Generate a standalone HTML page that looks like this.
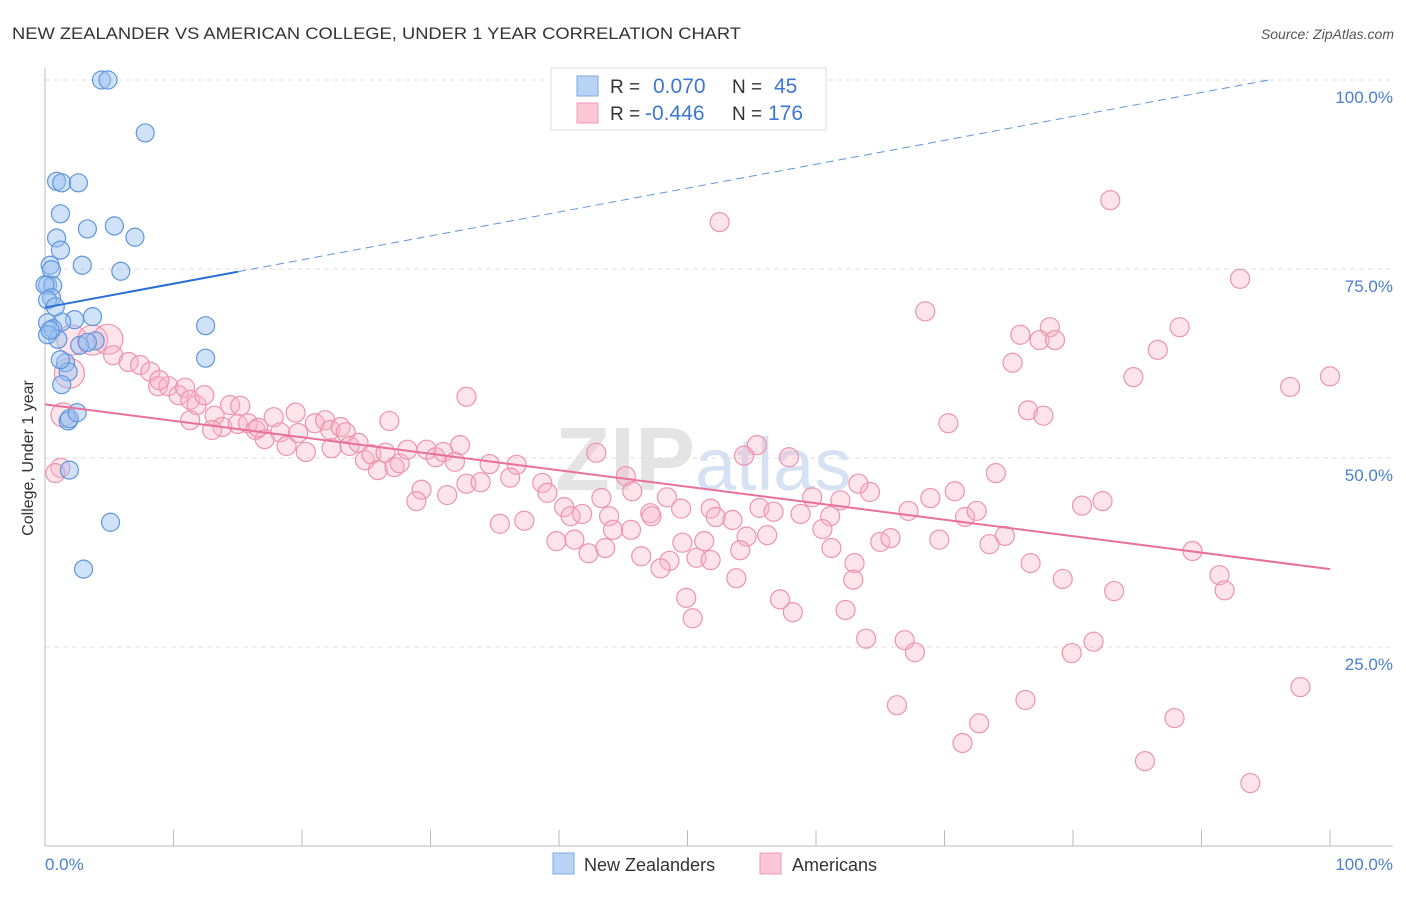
<!DOCTYPE html>
<html><head><meta charset="utf-8"><style>
body{margin:0;background:#fff;font-family:"Liberation Sans",sans-serif;}
svg text{font-family:"Liberation Sans",sans-serif;}
</style></head><body>
<svg id="chart" width="1406" height="892" xmlns="http://www.w3.org/2000/svg">
<text x="12" y="39" font-size="17" fill="#333" textLength="729" lengthAdjust="spacingAndGlyphs">NEW ZEALANDER VS AMERICAN COLLEGE, UNDER 1 YEAR CORRELATION CHART</text>
<text x="1394" y="39" font-size="14" fill="#555" font-style="italic" text-anchor="end">Source: ZipAtlas.com</text>
<text x="555" y="490" font-size="90" fill="#e4e4e4" font-family="Liberation Serif" font-weight="bold">ZIP<tspan fill="#d6e2f3" font-family="Liberation Sans" font-weight="normal" font-size="74">atlas</tspan></text>
<g id="grid"></g>
<g id="axes"></g>
<g id="pinkpts"></g>
<g id="bluepts"></g>
<g id="trends"></g>
<text transform="translate(33,458) rotate(-90)" font-size="16" fill="#333" text-anchor="middle">College, Under 1 year</text>
<text x="45" y="870" font-size="17" fill="#4a7fd0">0.0%</text>
<text x="1393" y="870" font-size="17" fill="#4a7fd0" text-anchor="end">100.0%</text>
<g>
<rect x="551" y="68" width="275" height="62" fill="#fff" stroke="#ddd"/>
<rect x="577" y="76" width="21" height="20" fill="#b8d3f5" stroke="#7aa7e3"/>
<rect x="577" y="103" width="21" height="20" fill="#fbc6d6" stroke="#f09ab4"/>
<text x="610" y="93" font-size="19" fill="#333">R =</text>
<text x="653" y="93" font-size="21" fill="#3d78d0">0.070</text>
<text x="732" y="93" font-size="19" fill="#333">N =</text>
<text x="774" y="93" font-size="21" fill="#3d78d0">45</text>
<text x="610" y="120" font-size="19" fill="#333">R =</text>
<text x="645" y="120" font-size="21" fill="#3d78d0">-0.446</text>
<text x="732" y="120" font-size="19" fill="#333">N =</text>
<text x="768" y="120" font-size="21" fill="#3d78d0">176</text>
</g>
<g>
<rect x="553" y="853" width="21" height="21" fill="#b8d3f5" stroke="#7aa7e3"/>
<text x="584" y="871" font-size="18" fill="#333">New Zealanders</text>
<rect x="760" y="853" width="21" height="21" fill="#fbc6d6" stroke="#f09ab4"/>
<text x="792" y="871" font-size="18" fill="#333">Americans</text>
</g>
</svg>
<script>
const yTicks=[25,50,75,100];
const yTickLabels=["25.0%","50.0%","75.0%","100.0%"];
const xTicks=[10,20,30,40,50,60,70,80,90,100];
const blueX=[4.4,4.9,7.8,0.9,1.3,2.6,1.2,5.4,3.3,7.0,0.9,1.2,2.9,5.9,0.4,0.5,0.2,0.6,0,0.5,0.2,3.7,2.3,1.3,0.2,0.6,1.0,3.9,12.5,12.5,1.6,1.8,1.3,1.8,1.9,2.5,1.9,5.1,3.0,0.2,0.4,2.7,3.3,1.2,0.8];
const blueY=[100,100,93.0,86.6,86.4,86.4,82.3,80.7,80.3,79.2,79.1,77.5,75.5,74.7,75.5,74.9,72.9,72.8,72.9,71.2,70.9,68.7,68.3,68.0,67.9,67.1,65.7,65.5,67.5,63.2,62.6,61.4,59.7,54.9,55.2,56.0,48.4,41.5,35.3,66.3,66.9,64.9,65.3,63.0,70.0];
const pinkX=[52.5,82.9,93.0,68.5,75.9,78.2,77.4,78.6,88.3,86.6,75.3,84.7,96.9,100,32.8,76.5,77.7,70.3,26.8,55.4,57.9,54.4,42.9,74.0,45.2,45.7,48.4,43.3,51.8,49.5,32.8,34.6,36.7,29.3,31.3,28.9,36.2,33.9,38.7,39.1,40.4,40.9,41.8,43.9,47.1,47.2,52.2,53.5,55.6,56.7,59.7,58.8,61.1,61.9,64.2,63.3,67.2,68.9,70.8,71.6,72.5,74.7,80.7,82.3,89.3,35.4,37.3,39.8,41.2,42.3,46.4,48.6,47.9,50.7,51.3,51.8,54.6,56.2,53.8,57.2,58.2,61.2,60.5,63.0,62.9,62.3,63.9,65.0,65.8,66.9,67.7,66.3,69.6,71.4,72.7,73.5,76.3,76.7,79.2,79.9,81.6,83.2,85.6,87.9,91.4,91.8,93.8,97.7,49.9,50.4,43.6,44.2,45.6,49.6,54.1,2.1,3.7,4.9,5.3,6.5,7.4,8.2,8.8,9.6,10.4,10.9,11.3,11.8,12.4,13.2,13.8,14.4,15.2,15.0,15.8,16.4,17.1,17.8,18.3,18.8,19.5,19.7,20.3,21.0,21.8,22.2,23.0,23.4,23.7,24.4,24.9,25.4,25.9,26.5,27.2,27.6,28.2,29.7,30.4,31.0,31.9,32.3,1.4,1.2,0.8,1.9,8.9,11.3,13.0,22.3,16.6];
const pinkY=[81.2,84.1,73.7,69.4,66.3,67.3,65.6,65.6,67.3,64.3,62.6,60.7,59.4,60.8,58.1,56.3,55.6,54.6,54.9,51.7,50.1,50.3,50.7,48.0,47.6,45.6,44.8,44.7,43.3,43.3,46.6,49.2,49.1,45.8,45.1,44.3,47.4,46.8,46.7,45.4,43.5,42.3,42.6,42.3,42.7,42.3,42.2,41.8,43.4,42.9,44.8,42.6,42.3,44.4,45.5,46.6,43.0,44.7,45.6,42.2,43.0,39.7,43.7,44.3,37.7,41.3,41.7,39.0,39.2,37.4,37.0,36.4,35.4,36.8,39.0,36.5,39.6,39.8,34.1,31.3,29.6,38.1,40.6,36.1,33.9,29.9,26.1,38.9,39.4,25.9,24.3,17.3,39.2,12.3,14.9,38.6,18.0,36.1,34.0,24.2,25.7,32.4,9.9,15.6,34.5,32.5,7.0,19.7,31.5,28.8,38.1,40.5,40.5,38.8,37.8,65.6,65.6,65.7,63.6,62.7,62.3,61.4,59.5,59.5,58.3,59.3,57.7,57.0,58.3,55.6,54.1,57.0,56.9,54.5,54.6,53.7,52.5,55.4,53.4,51.6,56.0,53.3,50.8,54.6,55.0,53.7,54.1,53.4,51.6,52.0,49.7,50.5,48.4,50.7,48.8,49.3,51.1,51.1,50.1,50.8,49.5,51.7,55.7,48.7,48.0,61.2,60.3,55.0,53.7,51.3,54.0];
const pinkBig=[115,116,117,165];
const pinkMid=[162];
const blueTrend=[69.9,0.316];
const pinkTrend=[57.1,-0.218];

const NS="http://www.w3.org/2000/svg";
const X=v=>45+v*12.85;
const Y=v=>836-v*7.56;
function mk(tag,attrs,parent){const e=document.createElementNS(NS,tag);for(const k in attrs)e.setAttribute(k,attrs[k]);parent.appendChild(e);return e;}
const grid=document.getElementById('grid'),axes=document.getElementById('axes');
yTicks.forEach((t,i)=>{
 const l=mk('line',{x1:45,x2:1393,y1:Y(t),y2:Y(t),stroke:'#ddd','stroke-dasharray':'5,4'},grid);
 
 
 const tx=mk('text',{x:1393,y:Y(t)+23,'font-size':17,fill:'#4a7fd0','text-anchor':'end'},grid);
 tx.textContent=yTickLabels[i];
 
 
});
const ya=mk('line',{x1:45,x2:45,y1:68,y2:846,stroke:'#bbb'},axes);


const xa=mk('line',{x1:45,x2:1393,y1:846,y2:846,stroke:'#bbb'},axes);


xTicks.forEach(t=>{
 const l=mk('line',{x1:X(t),x2:X(t),y1:830,y2:846,stroke:'#bbb'},axes);
 
 
});
const pg=document.getElementById('pinkpts');
pinkX.forEach((v,i)=>{
 const r=pinkBig.includes(i)?15:(pinkMid.includes(i)?12:9.5);
 const c=mk('circle',{cx:X(v),cy:Y(pinkY[i]),r:r,fill:'rgba(248,178,198,0.35)',stroke:'#ee93ae','stroke-width':1.2},pg);
 
 
});
const bg=document.getElementById('bluepts');
blueX.forEach((v,i)=>{
 const c=mk('circle',{cx:X(v),cy:Y(blueY[i]),r:9,fill:'rgba(150,190,240,0.45)',stroke:'#5f95dc','stroke-width':1.2},bg);
 
 
});
const tg=document.getElementById('trends');
const bY=x=>blueTrend[0]+blueTrend[1]*x;
const xEnd=Math.min(100,(100-blueTrend[0])/blueTrend[1]);
const b1=mk('line',{x1:X(0),y1:Y(bY(0)),x2:X(15),y2:Y(bY(15)),stroke:'#2a6fd6','stroke-width':2},tg);


const b2=mk('line',{x1:X(15),y1:Y(bY(15)),x2:X(xEnd),y2:Y(bY(xEnd)),stroke:'#5f95dc','stroke-width':1,'stroke-dasharray':'8,5'},tg);


const pY=x=>pinkTrend[0]+pinkTrend[1]*x;
const p1=mk('line',{x1:X(0),y1:Y(pY(0)),x2:X(100),y2:Y(pY(100)),stroke:'#e8709a','stroke-width':2},tg);


</script>
</body></html>
